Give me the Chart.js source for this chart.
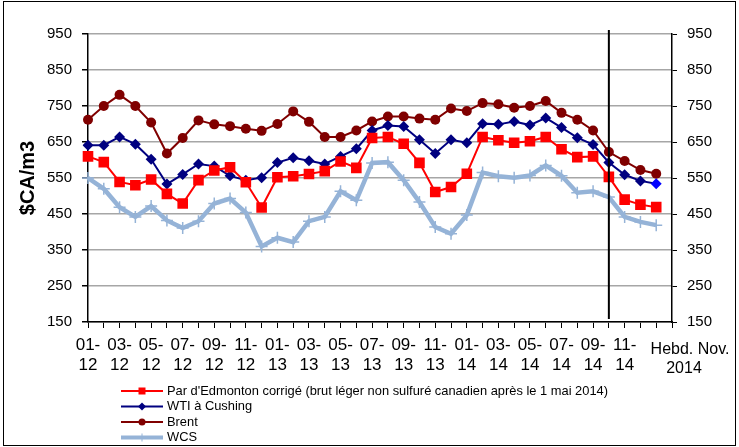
<!DOCTYPE html>
<html lang="fr">
<head>
    <title>Prix du brut</title>
    <meta charset="UTF-8">
    <script src="https://cdn.jsdelivr.net/npm/chart.js"></script>
    <style>
        body {
            margin: 0;
            padding: 0;
            background: white;
        }
    </style>
</head>
<body>
    <canvas id="graphique" width="739" height="447"></canvas>

    <script>
        // Catégories : mensuel 01-12 à 10-14, puis hebdomadaire nov. 2014
        var categories = [
            '01-12', '02-12', '03-12', '04-12', '05-12', '06-12', '07-12', '08-12', '09-12', '10-12', '11-12', '12-12',
            '01-13', '02-13', '03-13', '04-13', '05-13', '06-13', '07-13', '08-13', '09-13', '10-13', '11-13', '12-13',
            '01-14', '02-14', '03-14', '04-14', '05-14', '06-14', '07-14', '08-14', '09-14', '10-14',
            'Nov-14 s1', 'Nov-14 s2', 'Nov-14 s3', ''
        ];

        // Étiquettes affichées (une catégorie sur deux)
        var tickLabels = [
            '01-12', '03-12', '05-12', '07-12', '09-12', '11-12',
            '01-13', '03-13', '05-13', '07-13', '09-13', '11-13',
            '01-14', '03-14', '05-14', '07-14', '09-14', '11-14'
        ];
        var extraLabel = ['Hebd. Nov.', '2014'];

        var yTicks = [150, 250, 350, 450, 550, 650, 750, 850, 950];

        // Séries ($CA/m3)
        var edmonton = [610, 594, 539, 530, 546, 506, 479, 544, 571, 580, 538, 468, 552, 555, 561, 569, 596, 578, 661, 664,
                        645, 592, 511, 525, 562, 664, 655, 648, 652, 664, 630, 608, 610, 553, 490, 476, 469, null];
        var wti = [641, 641, 664, 644, 602, 533, 560, 589, 583, 556, 544, 551, 593, 606, 598, 589, 610, 631, 682, 696,
                   693, 656, 618, 656, 648, 701, 699, 707, 697, 717, 690, 662, 643, 593, 559, 542, 534, null];
        var brent = [712, 750, 781, 750, 704, 618, 661, 710, 699, 694, 687, 681, 700, 735, 706, 664, 664, 682, 707, 721,
                     721, 715, 712, 743, 736, 758, 755, 745, 750, 764, 731, 712, 682, 622, 597, 572, 562, null];
        var wcs = [550, 520, 469, 442, 472, 432, 411, 430, 479, 493, 454, 360, 384, 372, 430, 442, 513, 488, 592, 594,
                   544, 483, 414, 395, 447, 565, 555, 551, 557, 585, 556, 509, 513, 497, 442, 428, 419, null];

        var ligneVerticale = 33; // index de la ligne noire (10-14)

        var police = "'Liberation Sans', Arial, sans-serif";
        Chart.defaults.font.family = police;
        Chart.defaults.color = '#000';

        // Couleur des marqueurs WTI : le dernier est bleu vif
        var wtiPoints = wti.map(function(v, i) {
            return i === wti.length - 2 ? '#0000ff' : '#000080';
        });

        // Ligne verticale, étiquette hebdo, légende et cadre
        var extras = {
            id: 'extras',
            afterDatasetsDraw: function(chart) {
                var ctx = chart.ctx;
                var area = chart.chartArea;
                var x = chart.scales.x.getPixelForValue(ligneVerticale);
                ctx.save();
                ctx.strokeStyle = '#000';
                ctx.lineWidth = 2;
                ctx.beginPath();
                ctx.moveTo(x, area.top - 4);
                ctx.lineTo(x, area.bottom - 3);
                ctx.stroke();
                ctx.restore();
            },
            afterDraw: function(chart) {
                var ctx = chart.ctx;
                ctx.save();

                // étiquette "Hebd. Nov. 2014"
                ctx.fillStyle = '#000';
                ctx.font = '16px ' + police;
                ctx.textAlign = 'center';
                ctx.textBaseline = 'middle';
                ctx.fillText(extraLabel[0], 690, 350);
                ctx.fillText(extraLabel[1], 684, 369);

                // légende
                var y0 = 391, dy = 15.5;
                ctx.font = '13px ' + police;
                var sx = 441 / ctx.measureText(chart.data.datasets[0].label).width;
                chart.data.datasets.forEach(function(ds, i) {
                    var y = y0 + i * dy;
                    ctx.strokeStyle = ds.borderColor;
                    ctx.lineWidth = ds.borderWidth > 3 ? 4 : 2;
                    ctx.beginPath();
                    ctx.moveTo(121, y);
                    ctx.lineTo(163, y);
                    ctx.stroke();
                    var mx = 142;
                    ctx.fillStyle = ds.borderColor;
                    ctx.beginPath();
                    if (ds.pointStyle === 'rect') {
                        ctx.rect(mx - 3.5, y - 3.5, 7, 7);
                        ctx.fill();
                    } else if (ds.pointStyle === 'rectRot') {
                        ctx.moveTo(mx, y - 4); ctx.lineTo(mx + 4, y); ctx.lineTo(mx, y + 4); ctx.lineTo(mx - 4, y);
                        ctx.closePath();
                        ctx.fill();
                    } else if (ds.pointStyle === 'circle') {
                        ctx.arc(mx, y, 3.5, 0, Math.PI * 2);
                        ctx.fill();
                    } else {
                        ctx.lineWidth = 1;
                        ctx.moveTo(mx, y - 4); ctx.lineTo(mx, y + 4);
                        ctx.stroke();
                    }
                    ctx.save();
                    ctx.fillStyle = '#000';
                    ctx.textAlign = 'left';
                    ctx.textBaseline = 'middle';
                    ctx.translate(167, y);
                    ctx.scale(sx, 1);
                    ctx.fillText(ds.label, 0, 0);
                    ctx.restore();
                });

                // cadre
                ctx.strokeStyle = '#000';
                ctx.lineWidth = 1;
                ctx.strokeRect(3.5, 1.5, 732, 444);
                ctx.restore();
            }
        };

        var ctx = document.getElementById('graphique').getContext('2d');
        var graphique = new Chart(ctx, {
            type: 'line',
            data: {
                labels: categories,
                datasets: [
                    {
                        label: "Par d'Edmonton corrigé (brut léger non sulfuré canadien après le 1 mai 2014)",
                        data: edmonton,
                        borderColor: '#ff0000',
                        backgroundColor: '#ff0000',
                        borderWidth: 2,
                        pointStyle: 'rect',
                        pointRadius: 7.5,
                        pointBorderWidth: 0
                    },
                    {
                        label: 'WTI à Cushing',
                        data: wti,
                        borderColor: '#000080',
                        backgroundColor: wtiPoints,
                        pointBackgroundColor: wtiPoints,
                        pointBorderColor: wtiPoints,
                        borderWidth: 2,
                        pointStyle: 'rectRot',
                        pointRadius: 5.5,
                        pointBorderWidth: 0
                    },
                    {
                        label: 'Brent',
                        data: brent,
                        borderColor: '#800000',
                        backgroundColor: '#800000',
                        borderWidth: 2,
                        pointStyle: 'circle',
                        pointRadius: 5,
                        pointBorderWidth: 0
                    },
                    {
                        label: 'WCS',
                        data: wcs,
                        borderColor: '#95b3d7',
                        backgroundColor: '#95b3d7',
                        borderWidth: 4.5,
                        pointStyle: 'cross',
                        pointRadius: 6,
                        pointBorderWidth: 1.5
                    }
                ]
            },
            options: {
                responsive: false,
                animation: false,
                layout: {
                    padding: { left: 12, right: 7, top: 34, bottom: 75 }
                },
                plugins: {
                    legend: { display: false },
                    tooltip: { enabled: false }
                },
                scales: {
                    x: {
                        offset: false,
                        grid: { drawOnChartArea: false, offset: false, color: '#000', tickLength: 6 },
                        border: { color: '#000', width: 1.5 },
                        ticks: {
                            autoSkip: false,
                            maxRotation: 0,
                            minRotation: 0,
                            padding: 7,
                            font: { size: 17, lineHeight: 1.2 },
                            callback: function(value, index) {
                                if (index % 2 === 0 && index / 2 < tickLabels.length) {
                                    var p = tickLabels[index / 2].split('-');
                                    return [p[0] + '-', p[1]];
                                }
                                return '';
                            }
                        },
                        afterFit: function(scale) { scale.height = 50; }
                    },
                    y: {
                        min: 150,
                        max: 950,
                        afterBuildTicks: function(scale) {
                            scale.ticks = yTicks.map(function(v) { return { value: v }; });
                        },
                        grid: { color: '#a6a6a6', lineWidth: 1.5, tickLength: 6, tickColor: '#000' },
                        border: { color: '#000', width: 1.5 },
                        ticks: { font: { size: 15 }, padding: 10 },
                        title: {
                            display: true,
                            text: '$CA/m3',
                            font: { size: 20, weight: 'bold' },
                            padding: { top: 4, bottom: 4 }
                        },
                        afterFit: function(scale) { scale.width = 76; }
                    },
                    y2: {
                        position: 'right',
                        min: 150,
                        max: 950,
                        afterBuildTicks: function(scale) {
                            scale.ticks = yTicks.map(function(v) { return { value: v }; });
                        },
                        grid: { drawOnChartArea: false, color: '#000', tickLength: 5 },
                        border: { color: '#000', width: 1.5 },
                        ticks: { font: { size: 15 }, padding: 10 },
                        afterFit: function(scale) { scale.width = 60; }
                    }
                }
            },
            plugins: [extras]
        });
    </script>
</body>
</html>
